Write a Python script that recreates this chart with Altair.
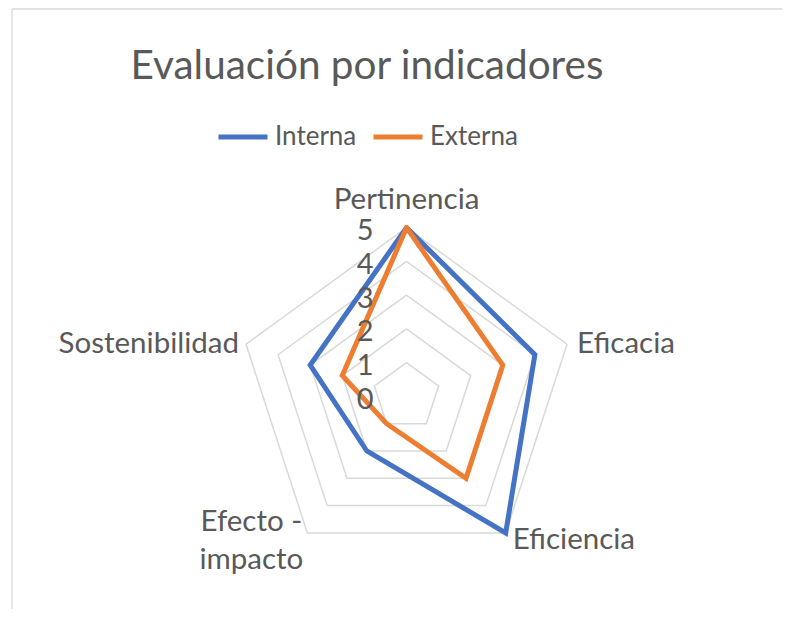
import altair as alt
import pandas as pd

categories = ["Pertinencia", "Eficacia", "Eficiencia", "Efecto - impacto", "Sostenibilidad"]
interna = [5, 4, 5, 2, 3]
externa = [5, 3, 3, 1, 2]
series_names = ["Interna", "Externa"]
series_colors = ["#4472C4", "#ED7D31"]
ticks = [0, 1, 2, 3, 4, 5]
title_text = "Evaluación por indicadores"

n = len(categories)
rmax = max(ticks)

# ---- tables built from the lists above ----
rows = []
for name, vals in zip(series_names, [interna, externa]):
    for k in range(n + 1):
        i = k % n
        rows.append({"serie": name, "categoria": categories[i], "idx": i,
                     "orden": k, "valor": vals[i]})
series_df = pd.DataFrame(rows)

grid_rows = []
for t in ticks[1:]:
    for k in range(n + 1):
        grid_rows.append({"anillo": t, "idx": k % n, "orden": k, "valor": t})
grid_df = pd.DataFrame(grid_rows)

tick_df = pd.DataFrame({"valor": ticks, "idx": [0] * len(ticks),
                        "etiqueta": [str(t) for t in ticks]})
cat_df = pd.DataFrame({"categoria": categories, "idx": list(range(n)),
                       "valor": [rmax] * n})

# ---- layout ----
W, H = 770, 600
unit = 33.75
cx, cy = 394.5, 387.4
xdom = [-cx / unit, (W - cx) / unit]
ydom = [-(H - cy) / unit, cy / unit]

FONT = "Lato"
GRAY = "#595959"
LIGHT = "#D9D9D9"

xenc = alt.X("px:Q", scale=alt.Scale(domain=xdom, nice=False, zero=False), axis=None)
yenc = alt.Y("py:Q", scale=alt.Scale(domain=ydom, nice=False, zero=False), axis=None)


def polar(ch):
    return ch.transform_calculate(
        ang=f"2*PI*datum.idx/{n}"
    ).transform_calculate(
        px="datum.valor*sin(datum.ang)",
        py="datum.valor*cos(datum.ang)",
    )


grid = polar(alt.Chart(grid_df)).mark_line(
    stroke=LIGHT, strokeWidth=1.5
).encode(x=xenc, y=yenc, detail="anillo:N", order="orden:Q")

color = alt.Color(
    "serie:N",
    scale=alt.Scale(domain=series_names, range=series_colors),
    legend=alt.Legend(
        title=None, orient="none", legendX=204, legendY=101,
        direction="horizontal", symbolType="stroke", symbolStrokeWidth=5,
        symbolSize=2401, labelFont=FONT, labelFontSize=26, labelColor=GRAY,
        labelOffset=5, columnPadding=6, padding=0,
    ),
)

line_int = polar(alt.Chart(series_df)).transform_filter(
    alt.datum.serie == series_names[0]
).mark_line(strokeWidth=5, strokeCap="round").encode(
    x=xenc, y=yenc, color=color, order="orden:Q")

line_ext = polar(alt.Chart(series_df)).transform_filter(
    alt.datum.serie == series_names[1]
).mark_line(strokeWidth=5, strokeCap="round").encode(
    x=xenc, y=yenc, color=color, order="orden:Q")

tick_labels = polar(alt.Chart(tick_df)).mark_text(
    font=FONT, fontSize=29, color=GRAY, align="right", baseline="middle",
    dx=-33, dy=3.5
).encode(x=xenc, y=yenc, text="etiqueta:N")


def cat_layer(i, **kw):
    return polar(alt.Chart(cat_df)).transform_filter(
        alt.datum.idx == i
    ).transform_calculate(
        lab="replace(datum.categoria, '- ', '-\\n')"
    ).mark_text(font=FONT, fontSize=29.5, color=GRAY, lineBreak="\n",
                lineHeight=38, **kw).encode(x=xenc, y=yenc, text="lab:N")


cat0 = cat_layer(0, align="center", baseline="alphabetic", dy=-18.6)
cat1 = cat_layer(1, align="left", baseline="alphabetic", dx=10, dy=8.4)
cat2 = cat_layer(2, align="left", baseline="alphabetic", dx=7, dy=16.4)
cat3 = cat_layer(3, align="center", baseline="alphabetic", dx=-56, dy=-2)
cat4 = cat_layer(4, align="right", baseline="alphabetic", dx=-7, dy=9)

frame = alt.Data(values=[{"a": 1}])
border_top = alt.Chart(frame).mark_rule(color=LIGHT, strokeWidth=1.3).encode(
    x=alt.value(0), x2=alt.value(W), y=alt.value(0))
border_left = alt.Chart(frame).mark_rule(color=LIGHT, strokeWidth=1.3).encode(
    x=alt.value(0), y=alt.value(0), y2=alt.value(H))

chart = alt.layer(
    border_top, border_left, grid, line_int, line_ext, tick_labels,
    cat0, cat1, cat2, cat3, cat4,
).properties(
    width=W, height=H,
    autosize=alt.AutoSizeParams(type="none"),
    padding={"left": 4, "top": 1, "right": 0, "bottom": 0},
    title=alt.TitleParams(
        title_text, font=FONT, fontSize=40.5, fontWeight="normal", color=GRAY,
        anchor="middle", baseline="alphabetic", offset=-111, dx=-30,
    ),
).configure_view(stroke="transparent", strokeWidth=0)

chart.save("out.html", embed_options={"renderer": "svg", "actions": False})
